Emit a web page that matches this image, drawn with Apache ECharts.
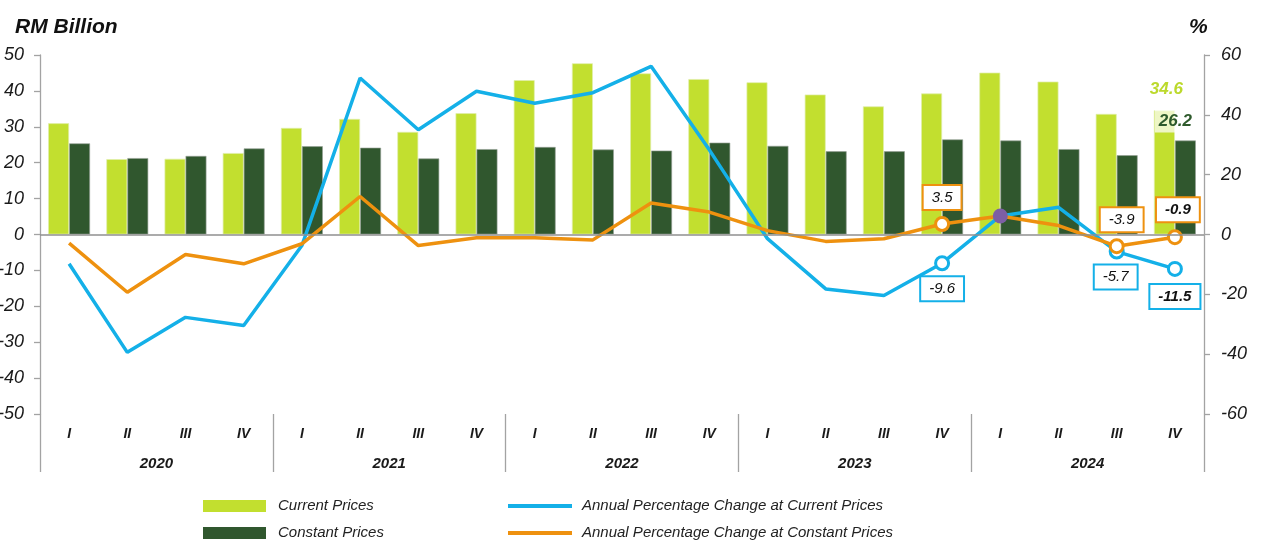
<!DOCTYPE html>
<html>
<head>
<meta charset="utf-8">
<script src="https://cdn.jsdelivr.net/npm/echarts@6/dist/echarts.min.js"></script>
<style>
  html, body { margin: 0; padding: 0; background: #ffffff; }
  #chart { width: 1263px; height: 541px; }
</style>
</head>
<body>
<div id="chart"></div>
<script>
// Quarterly values, 2020 Q1 .. 2024 Q4
const quarterLabels = ['I', 'II', 'III', 'IV', 'I', 'II', 'III', 'IV', 'I', 'II', 'III', 'IV',
                       'I', 'II', 'III', 'IV', 'I', 'II', 'III', 'IV'];
const yearLabels = ['2020', '2021', '2022', '2023', '2024'];

// RM billion
const currentPrices  = [31.0, 21.0, 21.1, 22.7, 29.7, 32.2, 28.6, 33.8, 43.0, 47.7,
                        44.9, 43.3, 42.4, 39.0, 35.7, 39.3, 45.1, 42.6, 33.6, 34.6];
const constantPrices = [25.4, 21.3, 21.9, 24.0, 24.6, 24.2, 21.2, 23.8, 24.4, 23.7,
                        23.4, 25.6, 24.7, 23.2, 23.2, 26.5, 26.2, 23.8, 22.1, 26.2];

// Annual percentage change (%)
const changeCurrent  = [-9.8, -39.4, -27.7, -30.4, -3.7, 52.3, 35.0, 47.9, 43.9, 47.4,
                        56.2, 28.3, -1.4, -18.2, -20.4, -9.6, 6.2, 9.1, -5.7, -11.5];
const changeConstant = [-2.9, -19.3, -6.7, -9.8, -3.1, 12.7, -3.7, -1.1, -1.1, -1.8,
                        10.5, 7.5, 1.3, -2.3, -1.4, 3.5, 6.2, 3.0, -3.9, -0.9];

const seriesNames = ['Current Prices', 'Constant Prices',
                     'Annual Percentage Change at Current Prices',
                     'Annual Percentage Change at Constant Prices'];

const FONT = "'Liberation Sans', Arial, sans-serif";
const C_LIGHT = '#c2df2f';
const C_DARK = '#30572e';
const C_BLUE = '#14b0e8';
const C_ORANGE = '#ee910f';
const C_AXIS = '#a3a3a3';

const last = currentPrices.length - 1;
const annotated = [15, 18, 19];   // 2023 IV, 2024 III, 2024 IV
const boldIdx = [19];
const crossIdx = 16;              // both growth lines meet at 2024 I

function barData(values, labelOpt) {
  return values.map((v, i) => i === last ? { value: v, label: labelOpt } : v);
}

function changeData(values, color, position, distance, offsets) {
  return values.map((v, i) => {
    if (annotated.indexOf(i) >= 0) {
      const bold = boldIdx.indexOf(i) >= 0;
      return {
        value: v,
        symbol: 'circle',
        symbolSize: 13,
        itemStyle: { color: '#ffffff', borderColor: color, borderWidth: 3 },
        label: {
          show: true,
          position: position,
          distance: distance,
          offset: offsets[i] || [0, 0],
          formatter: '{c}',
          fontFamily: FONT,
          fontStyle: 'italic',
          fontWeight: bold ? 'bold' : 'normal',
          fontSize: 15,
          color: '#111111',
          backgroundColor: '#ffffff',
          borderColor: color,
          borderWidth: 2,
          padding: [4, 8]
        }
      };
    }
    return v;
  });
}

const orangeData = changeData(changeConstant, C_ORANGE, 'top', 7, { 18: [5, 0], 19: [3, -1] });
orangeData[crossIdx] = {
  value: changeConstant[crossIdx],
  symbol: 'circle',
  symbolSize: 15,
  itemStyle: { color: '#7d5fa4', borderWidth: 0 }
};

const chart = echarts.init(document.getElementById('chart'), null, { renderer: 'canvas' });

const axisLabelStyle = {
  fontFamily: FONT, fontStyle: 'italic', fontSize: 18, color: '#1a1a1a'
};
const legendText = {
  fontFamily: FONT, fontStyle: 'italic', fontSize: 15, lineHeight: 16, color: '#222'
};

chart.setOption({
  animation: false,
  backgroundColor: '#ffffff',
  title: [
    { text: 'RM Billion', left: 10, top: 12,
      textStyle: { fontFamily: FONT, fontSize: 21, fontStyle: 'italic', fontWeight: 'bold', color: '#111' } },
    { text: '%', left: 1184, top: 12,
      textStyle: { fontFamily: FONT, fontSize: 21, fontStyle: 'italic', fontWeight: 'bold', color: '#111' } }
  ],
  grid: { left: 40, right: 59, top: 55, bottom: 127, containLabel: false, outerBoundsMode: 'none' },
  legend: [
    {
      data: [seriesNames[0], seriesNames[1]],
      orient: 'vertical', left: 203, top: 498, padding: 0,
      icon: 'rect', itemWidth: 63, itemHeight: 12, itemGap: 11,
      selectedMode: false,
      itemStyle: { borderWidth: 0 },
      textStyle: Object.assign({ padding: [0, 0, 0, 7] }, legendText)
    },
    {
      data: [seriesNames[2], seriesNames[3]],
      orient: 'vertical', left: 508, top: 498, padding: 0,
      icon: 'rect', itemWidth: 64, itemHeight: 4, itemGap: 11,
      selectedMode: false,
      itemStyle: { borderWidth: 0 },
      textStyle: Object.assign({ padding: [0, 0, 0, 5] }, legendText)
    }
  ],
  xAxis: [
    {
      type: 'category',
      data: quarterLabels,
      position: 'bottom',
      axisLine: { show: false, onZero: false },
      axisTick: { show: false },
      axisLabel: { interval: 0, margin: 13, fontFamily: FONT, fontStyle: 'italic',
                   fontWeight: 'bold', fontSize: 14, color: '#1a1a1a' }
    },
    {
      type: 'category',
      data: yearLabels,
      position: 'bottom',
      axisLine: { show: false, onZero: false },
      axisTick: { show: true, interval: 0, length: 58, lineStyle: { color: C_AXIS, width: 1.3 } },
      axisLabel: { interval: 0, margin: 42, fontFamily: FONT, fontStyle: 'italic',
                   fontWeight: 'bold', fontSize: 15, color: '#1a1a1a' }
    }
  ],
  yAxis: [
    {
      type: 'value', min: -50, max: 50, interval: 10,
      axisLine: { show: true, lineStyle: { color: C_AXIS, width: 1.3 } },
      axisTick: { show: true, length: 6, lineStyle: { color: C_AXIS, width: 1.3 } },
      splitLine: { show: false },
      axisLabel: Object.assign({ margin: 16 }, axisLabelStyle)
    },
    {
      type: 'value', min: -60, max: 60, interval: 20, position: 'right',
      axisLine: { show: true, lineStyle: { color: C_AXIS, width: 1.3 } },
      axisTick: { show: true, length: 6, lineStyle: { color: C_AXIS, width: 1.3 } },
      splitLine: { show: false },
      axisLabel: Object.assign({ margin: 17 }, axisLabelStyle)
    }
  ],
  series: [
    {
      name: seriesNames[0],
      type: 'bar',
      barWidth: 21,
      barGap: '0%',
      itemStyle: { color: C_LIGHT, borderColor: 'rgba(225,238,170,0.9)', borderWidth: 0.8 },
      data: barData(currentPrices, {
        show: true, position: 'top', distance: 12, offset: [2, 0],
        formatter: '{c}', fontFamily: FONT, fontStyle: 'italic', fontWeight: 'bold',
        fontSize: 17, color: '#bcd92c'
      })
    },
    {
      name: seriesNames[1],
      type: 'bar',
      barWidth: 21,
      barGap: '0%',
      itemStyle: { color: C_DARK, borderColor: 'rgba(150,160,150,0.8)', borderWidth: 0.8 },
      data: barData(constantPrices, {
        show: true, position: 'top', distance: 8, offset: [-10, 0],
        formatter: '{c}', fontFamily: FONT, fontStyle: 'italic', fontWeight: 'bold',
        fontSize: 17, color: '#2e5a2c',
        backgroundColor: 'rgba(255,255,255,0.72)', padding: [3, 4]
      }),
      markLine: {
        silent: true,
        symbol: ['none', 'none'],
        label: { show: false },
        lineStyle: { color: '#8f8f8f', width: 1.5, type: 'solid' },
        data: [{ yAxis: 0 }]
      }
    },
    {
      name: seriesNames[2],
      type: 'line',
      yAxisIndex: 1,
      symbol: 'none',
      showAllSymbol: true,
      lineStyle: { color: C_BLUE, width: 3.5 },
      itemStyle: { color: C_BLUE },
      z: 3,
      data: changeData(changeCurrent, C_BLUE, 'bottom', 6, { 18: [-1, 0], 19: [0, 2] })
    },
    {
      name: seriesNames[3],
      type: 'line',
      yAxisIndex: 1,
      symbol: 'none',
      showAllSymbol: true,
      lineStyle: { color: C_ORANGE, width: 3.5 },
      itemStyle: { color: C_ORANGE },
      z: 4,
      data: orangeData
    }
  ]
});
</script>
</body>
</html>
